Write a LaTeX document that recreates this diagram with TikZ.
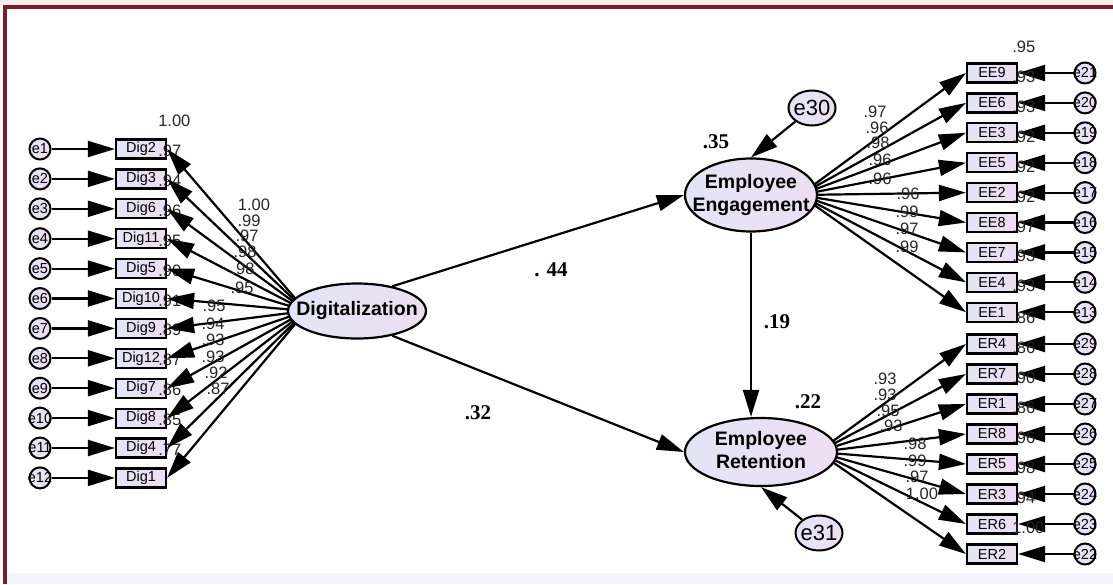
\documentclass[tikz,border=0pt]{standalone}
\usepackage{fontspec}
\setmainfont{Liberation Sans}
\newfontfamily\timesfont{Liberation Serif}
\usetikzlibrary{arrows.meta,shapes.geometric,calc}
\definecolor{framered}{RGB}{122,28,44}
\definecolor{fillleft}{RGB}{226,229,245}
\definecolor{fillright}{RGB}{238,222,242}
\newcommand{\lattext}[1]{\makebox[0pt]{\begin{tabular}{@{}c@{}}#1\end{tabular}}}

\begin{document}
\begin{tikzpicture}[x=1pt, y=-1pt,
    obs/.style={rectangle, draw, line width=2.2pt, left color=fillleft, right color=fillright,
                minimum width=50pt, minimum height=19pt, inner sep=0pt,
                font=\fontsize{14.5}{15}\selectfont},
    err/.style={circle, draw, line width=2pt, left color=fillleft, right color=fillright,
                minimum size=21pt, inner sep=0pt, font=\fontsize{14.5}{15}\selectfont},
    disturb/.style={ellipse, draw, line width=2pt, left color=fillleft, right color=fillright,
                minimum width=47pt, minimum height=35pt, inner sep=0pt, font=\fontsize{22}{24}\selectfont},
    latent/.style={ellipse, draw, line width=2.2pt, left color=fillleft, right color=fillright,
                inner sep=0pt, font=\bfseries\fontsize{19.5}{23}\selectfont},
    arrow/.style={-{Triangle[length=27pt,width=16pt]}, line width=2.2pt},
    coef/.style={font=\fontsize{16.5}{16.5}\selectfont, text=black!85, inner sep=0pt},
    rsq/.style={font=\fontsize{16.5}{16.5}\selectfont, text=black!85, inner sep=0pt, anchor=west},
    beta/.style={font=\timesfont\bfseries\fontsize{21}{21}\selectfont, inner sep=0pt}
  ]
  \useasboundingbox (0,0) rectangle (1113,584);
  \fill[framered!8] (0,0) rectangle (1113,5);
  \fill[fillleft!40] (7,573) rectangle (1113,584);
  \draw[framered, line width=4pt] (5,584) -- (5,7) -- (1113,7);

  % indicators of Digitalization
  \foreach \ob/\en/\r [count=\i from 0] in {Dig2/e1/1.00, Dig3/e2/.97, Dig6/e3/.94, Dig11/e4/.96,
      Dig5/e5/.95, Dig10/e6/.90, Dig9/e7/.91, Dig12/e8/.89, Dig7/e9/.87, Dig8/e10/.86,
      Dig4/e11/.85, Dig1/e12/.77} {
    \node[obs] (\ob) at (141, 149+29.9*\i) {\ob};
    \node[rsq] (r\ob) at ($(\ob.east)+(-9,-28)$) {\r};
    \node[err] (\en) at (40, 149+29.9*\i) {\makebox[0pt]{\en}};
    \draw[arrow] (\en) -- (\ob);
  }

  % indicators of Employee Engagement
  \foreach \ob/\en/\r [count=\i from 0] in {EE9/e21/.95, EE6/e20/.93, EE3/e19/.93, EE5/e18/.92,
      EE2/e17/.92, EE8/e16/.92, EE7/e15/.97, EE4/e14/.93, EE1/e13/.93} {
    \node[obs] (\ob) at (992, 73+29.9*\i) {\ob};
    \node[rsq] (r\ob) at ($(\ob.east)+(-6,-26)$) {\r};
    \node[err] (\en) at (1085, 73+29.9*\i) {\makebox[0pt]{\en}};
    \draw[arrow] (\en) -- (\ob);
  }

  % indicators of Employee Retention
  \foreach \ob/\en/\r [count=\i from 0] in {ER4/e29/.86, ER7/e28/.86, ER1/e27/.90, ER8/e26/.86,
      ER5/e25/.96, ER3/e24/.98, ER6/e23/.94, ER2/e22/1.00} {
    \node[obs] (\ob) at (992, 344+30*\i) {\ob};
    \node[rsq] (r\ob) at ($(\ob.east)+(-6,-26)$) {\r};
    \node[err] (\en) at (1085, 344+30*\i) {\makebox[0pt]{\en}};
    \draw[arrow] (\en) -- (\ob);
  }

  % loadings (drawn before the ellipses so these hide the inner ends)
  \coordinate (digc) at (306,311);
  \coordinate (engc) at (800,195);
  \coordinate (retc) at (818,452);
  \foreach \ob in {Dig2,Dig3,Dig6,Dig11,Dig5,Dig10,Dig9,Dig12,Dig7,Dig8,Dig4,Dig1}
    \draw[arrow] (digc) -- (\ob.east);
  \foreach \ob in {EE9,EE6,EE3,EE5,EE2,EE8,EE7,EE4,EE1}
    \draw[arrow] (engc) -- (\ob.west);
  \foreach \ob in {ER4,ER7,ER1,ER8,ER5,ER3,ER6,ER2}
    \draw[arrow] (retc) -- (\ob.west);

  \node[latent, minimum width=138pt, minimum height=55pt] (dig) at (357,311) {\lattext{Digitalization}};
  \node[latent, minimum width=132pt, minimum height=73pt] (eng) at (751,195) {\lattext{Employee\\Engagement}};
  \node[latent, minimum width=152pt, minimum height=68pt] (ret) at (761,452) {\lattext{Employee\\Retention}};
  \node[disturb] (e30) at (812,108) {\makebox[0pt]{e30}};
  \node[disturb] (e31) at (819,533) {\makebox[0pt]{e31}};

  \draw[arrow] (dig.35) -- (eng.west);
  \draw[arrow] (dig.-35) -- (ret.west);
  \draw[arrow] (eng.south) -- (eng.south |- ret.north);
  \draw[arrow] (e30) -- (eng.north);
  \draw[arrow] (e31) -- (ret.south);

  \foreach \v/\x/\y [count=\k] in {1.00/254/205, .99/249/221, .97/247/236, .98/245/252,
      .98/243/269, .95/242/288, .95/214/306, .94/213/324, .93/213/340, .93/213/357,
      .92/216/373, .87/218/389}
    \node[coef] (ld\k) at (\x,\y) {\v};
  \foreach \v/\x/\y [count=\k] in {.97/875/112, .96/877/128, .98/878/143, .96/880/160,
      .96/880/179, .96/908/194, .99/907/212, .97/907/229, .99/907/247}
    \node[coef] (le\k) at (\x,\y) {\v};
  \foreach \v/\x/\y [count=\k] in {.93/885/379, .93/885/395, .95/888/411, .93/891/426,
      .98/915/444, .99/915/461, .97/917/477, 1.00/922/494}
    \node[coef] (lr\k) at (\x,\y) {\v};

  \node[beta] (b1) at (551,270) {. 44};
  \node[beta] (b2) at (478,413) {.32};
  \node[beta] (b3) at (777,322) {.19};
  \node[beta] (b4) at (716,142) {.35};
  \node[beta] (b5) at (808,402) {.22};
\end{tikzpicture}
\end{document}
